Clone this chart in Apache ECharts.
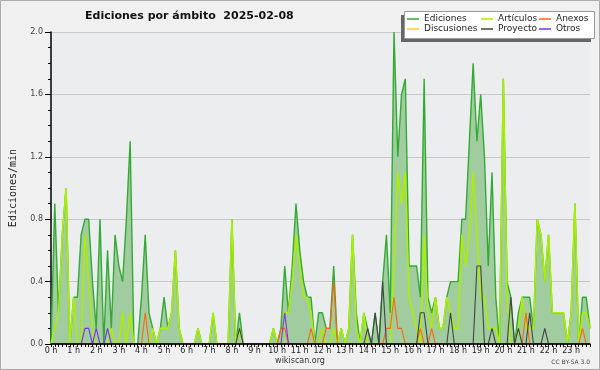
<!DOCTYPE html>
<html><head><meta charset="utf-8">
<script src="https://cdn.jsdelivr.net/npm/echarts@6/dist/echarts.min.js"></script>
<style>html,body{margin:0;padding:0;background:#f0f0f0}#c{width:600px;height:370px}</style>
</head><body><div id="c"></div>
<script>
// 10-minute slots, 0:00 .. 23:50
const hourLabels = ['0 h','1 h','2 h','3 h','4 h','5 h','6 h','7 h','8 h','9 h','10 h','11 h','12 h','13 h','14 h','15 h','16 h','17 h','18 h','19 h','20 h','21 h','22 h','23 h'];
const seriesNames = ['Ediciones','Artículos','Anexos','Discusiones','Proyecto','Otros'];
const ediciones = [
0,0.9,0.2,0.7,1.0,0,0.3,0.3,0.7,0.8,0.8,0.4,
0.1,0.8,0,0.6,0.1,0.7,0.5,0.4,0.8,1.3,0,0,
0.3,0.7,0.2,0.1,0,0.1,0.3,0.1,0.2,0.6,0.1,0,
0,0,0,0.1,0,0,0,0.2,0,0,0,0,
0.8,0,0.2,0,0,0,0,0,0,0,0,0.1,
0,0.1,0.5,0.2,0.5,0.9,0.6,0.4,0.3,0.3,0,0.2,
0.2,0.1,0.1,0.5,0,0.1,0,0.1,0.7,0.2,0,0.2,
0.1,0,0.2,0,0.4,0.7,0.2,2.0,1.2,1.6,1.7,0.5,
0.5,0.5,0.3,1.7,0.3,0.2,0.3,0.1,0.1,0.3,0.4,0.4,
0.4,0.8,0.8,1.3,1.8,1.3,1.6,1.2,0.5,1.1,0.3,0,
1.7,0.4,0.3,0,0.2,0.3,0.3,0.3,0.1,0.8,0.7,0.4,
0.7,0.2,0.2,0.2,0.2,0,0.2,0.9,0,0.3,0.3,0.1];
const articulos = [
0,0.1,0.2,0.7,1.0,0,0.3,0,0,0.7,0.4,0.1,
0,0,0,0,0.1,0,0,0.2,0,0.2,0,0,
0,0,0,0.1,0,0.1,0.1,0.1,0.2,0.6,0.1,0,
0,0,0,0.1,0,0,0,0.2,0,0,0,0,
0.8,0,0.1,0,0,0,0,0,0,0,0,0.1,
0,0,0.2,0.2,0.4,0.7,0.5,0.3,0.3,0.2,0,0,
0.1,0,0,0.1,0,0.1,0,0.1,0.7,0.1,0,0.2,
0,0,0,0,0,0,0,0.5,1.1,0.9,1.1,0.3,
0.2,0.1,0,0.7,0.2,0.1,0.3,0.1,0.1,0.3,0.2,0.1,
0.1,0.7,0.5,0.7,1.1,0.7,0.3,0.3,0.1,0.1,0.1,0,
1.7,0.3,0,0,0.1,0.3,0.1,0.1,0.1,0.8,0.7,0.4,
0.7,0.2,0.2,0.2,0.2,0,0.2,0.9,0,0.2,0.2,0.1];
const anexos = [
0,0,0,0,0,0,0,0,0,0,0,0,
0,0,0,0,0,0,0,0,0,0,0,0,
0,0.2,0,0,0,0,0,0,0,0,0,0,
0,0,0,0,0,0,0,0,0,0,0,0,
0,0,0,0,0,0,0,0,0,0,0,0,
0,0.1,0.1,0,0,0,0,0,0,0.1,0,0,
0,0.1,0.1,0.4,0,0,0,0,0,0,0,0,
0,0,0,0,0,0.1,0.1,0.3,0.1,0.1,0,0,
0,0,0.1,0,0,0.1,0,0,0,0,0,0,
0,0,0,0,0,0,0,0,0,0,0,0,
0,0,0,0,0,0,0.2,0,0,0,0,0,
0,0,0,0,0,0,0,0,0,0.1,0,0];
const discusiones = [
0,0,0,0,0,0,0,0,0,0,0,0,
0,0,0,0,0,0,0,0,0,0,0,0,
0,0,0,0,0,0,0,0,0,0,0,0,
0,0,0,0,0,0,0,0,0,0,0,0,
0,0,0,0,0,0,0,0,0,0,0,0,
0,0,0,0,0,0,0,0,0,0,0,0,
0,0,0,0,0,0,0,0,0,0,0,0,
0,0,0,0,0,0,0,0,0,0,0,0,
0,0,0,0,0,0,0,0,0,0,0,0,
0,0,0,0,0,0,0,0,0,0,0,0,
0,0,0,0,0,0,0,0,0,0,0,0,
0,0,0,0,0,0,0,0,0,0,0,0];
const proyecto = [
0,0,0,0,0,0,0,0,0,0,0,0,
0,0,0,0,0,0,0,0,0,0,0,0,
0,0,0,0,0,0,0,0,0,0,0,0,
0,0,0,0,0,0,0,0,0,0,0,0,
0,0,0.1,0,0,0,0,0,0,0,0,0,
0,0,0,0,0,0,0,0,0,0,0,0,
0,0,0,0,0,0,0,0,0,0,0,0,
0.1,0,0.2,0,0.4,0,0,0,0,0,0,0,
0,0,0.2,0.2,0,0,0,0,0,0,0.2,0,
0,0,0,0,0,0.5,0.5,0,0,0.1,0,0,
0,0,0.3,0,0.1,0,0,0.2,0,0,0,0.1,
0,0,0,0,0,0,0,0,0,0,0,0];
const otros = [
0,0,0,0,0,0,0,0,0,0.1,0.1,0,
0.1,0,0,0.1,0,0,0,0,0,0,0,0,
0,0,0,0,0,0,0,0,0,0,0,0,
0,0,0,0,0,0,0,0,0,0,0,0,
0,0,0,0,0,0,0,0,0,0,0,0,
0,0,0.2,0,0,0,0,0,0,0,0,0,
0,0,0,0,0,0,0,0,0,0,0,0,
0,0,0,0,0,0,0,0,0,0,0,0,
0,0,0,0,0,0,0,0,0,0,0,0,
0,0,0,0,0,0,0,0,0,0,0,0,
0,0,0,0,0,0,0,0,0,0,0,0,
0,0,0,0,0,0,0,0,0,0,0,0];

const slotMinutes = 10;
const toPairs = arr => arr.map((v, i) => [i * slotMinutes, v]);

const colors = ['#33aa33', '#aaee00', '#ff6611', '#ffcc33', '#444444', '#7733ee'];
const values = [ediciones, articulos, anexos, discusiones, proyecto, otros];

const series = seriesNames.map((n, k) => {
  const s = {
    name: n, type: 'line', data: toPairs(values[k]), showSymbol: false, symbol: 'none',
    lineStyle: { color: colors[k], width: k === 1 ? 1.6 : (k === 0 ? 1.4 : 1.1) },
    itemStyle: { color: colors[k] }, z: 2 + k
  };
  if (k === 0) s.areaStyle = { color: '#a0cca0', opacity: 1 };
  return s;
});

const legendCommon = {
  orient: 'vertical', top: 14, padding: 0, itemGap: 0, itemWidth: 12, itemHeight: 1.5,
  icon: 'rect', selectedMode: false, z: 60,
  textStyle: { fontFamily: 'DejaVu Sans', fontSize: 9, color: '#222', lineHeight: 10 }
};

const chart = echarts.init(document.getElementById('c'), null, { renderer: 'canvas' });
chart.setOption({
  animation: false,
  backgroundColor: '#f0f0f0',
  title: {
    text: 'Ediciones por ámbito  2025-02-08', left: 80, top: 6,
    textStyle: { fontFamily: 'DejaVu Sans', fontWeight: 'bold', fontSize: 11, color: '#111' }
  },
  grid: { left: 46, right: 10, top: 32, bottom: 26, show: true, backgroundColor: '#ecedef', borderWidth: 0 },
  legend: [
    Object.assign({ left: 407, data: ['Ediciones', 'Discusiones'] }, legendCommon),
    Object.assign({ left: 481, data: ['Artículos', 'Proyecto'] }, legendCommon),
    Object.assign({ left: 539, data: ['Anexos', 'Otros'] }, legendCommon)
  ],
  xAxis: {
    type: 'value', min: 0, max: 1430, interval: 60, z: 10,
    axisLine: { lineStyle: { color: '#000', width: 1.5 } },
    axisTick: { show: true, length: 3, lineStyle: { color: '#000' } },
    minorTick: { show: true, splitNumber: 6, length: 3, lineStyle: { color: '#000' } },
    splitLine: { show: false },
    axisLabel: {
      fontFamily: 'DejaVu Sans', fontSize: 8, color: '#222', margin: 3, showMaxLabel: false,
      formatter: v => hourLabels[Math.round(v / 60)] || ''
    }
  },
  yAxis: {
    type: 'value', min: 0, max: 2, interval: 0.4,
    name: 'Ediciones/min', nameLocation: 'middle', nameGap: 33,
    nameTextStyle: { fontFamily: 'DejaVu Sans Mono', fontSize: 10, color: '#222' },
    axisLine: { show: true, lineStyle: { color: '#000', width: 1.5 } },
    axisTick: { show: true, length: 6, lineStyle: { color: '#000' } },
    minorTick: { show: true, splitNumber: 4, length: 3, lineStyle: { color: '#000' } },
    splitLine: { show: true, lineStyle: { color: '#c8c8c8', width: 1 } },
    axisLabel: { fontFamily: 'DejaVu Sans', fontSize: 8, color: '#444', margin: 8, formatter: v => v.toFixed(1) }
  },
  graphic: [
    { type: 'rect', silent: true, z: 100, shape: { x: 0.5, y: 0.5, width: 599, height: 369 }, style: { fill: 'none', stroke: '#aaaaaa', lineWidth: 1 } },
    { type: 'rect', silent: true, z: 50, shape: { x: 401, y: 15, width: 190, height: 27 }, style: { fill: '#666666' } },
    { type: 'rect', silent: true, z: 51, shape: { x: 404.5, y: 11.5, width: 190, height: 27 }, style: { fill: '#ffffff', stroke: '#999999', lineWidth: 1 } },
    { type: 'text', silent: true, z: 60, x: 300, y: 361, style: { text: 'wikiscan.org', fill: '#333', font: '8px "DejaVu Sans"', textAlign: 'center', textVerticalAlign: 'middle' } },
    { type: 'text', silent: true, z: 60, x: 590, y: 362, style: { text: 'CC BY-SA 3.0', fill: '#444', font: '6px "DejaVu Sans"', textAlign: 'right', textVerticalAlign: 'middle' } }
  ],
  series: series
});
</script></body></html>
